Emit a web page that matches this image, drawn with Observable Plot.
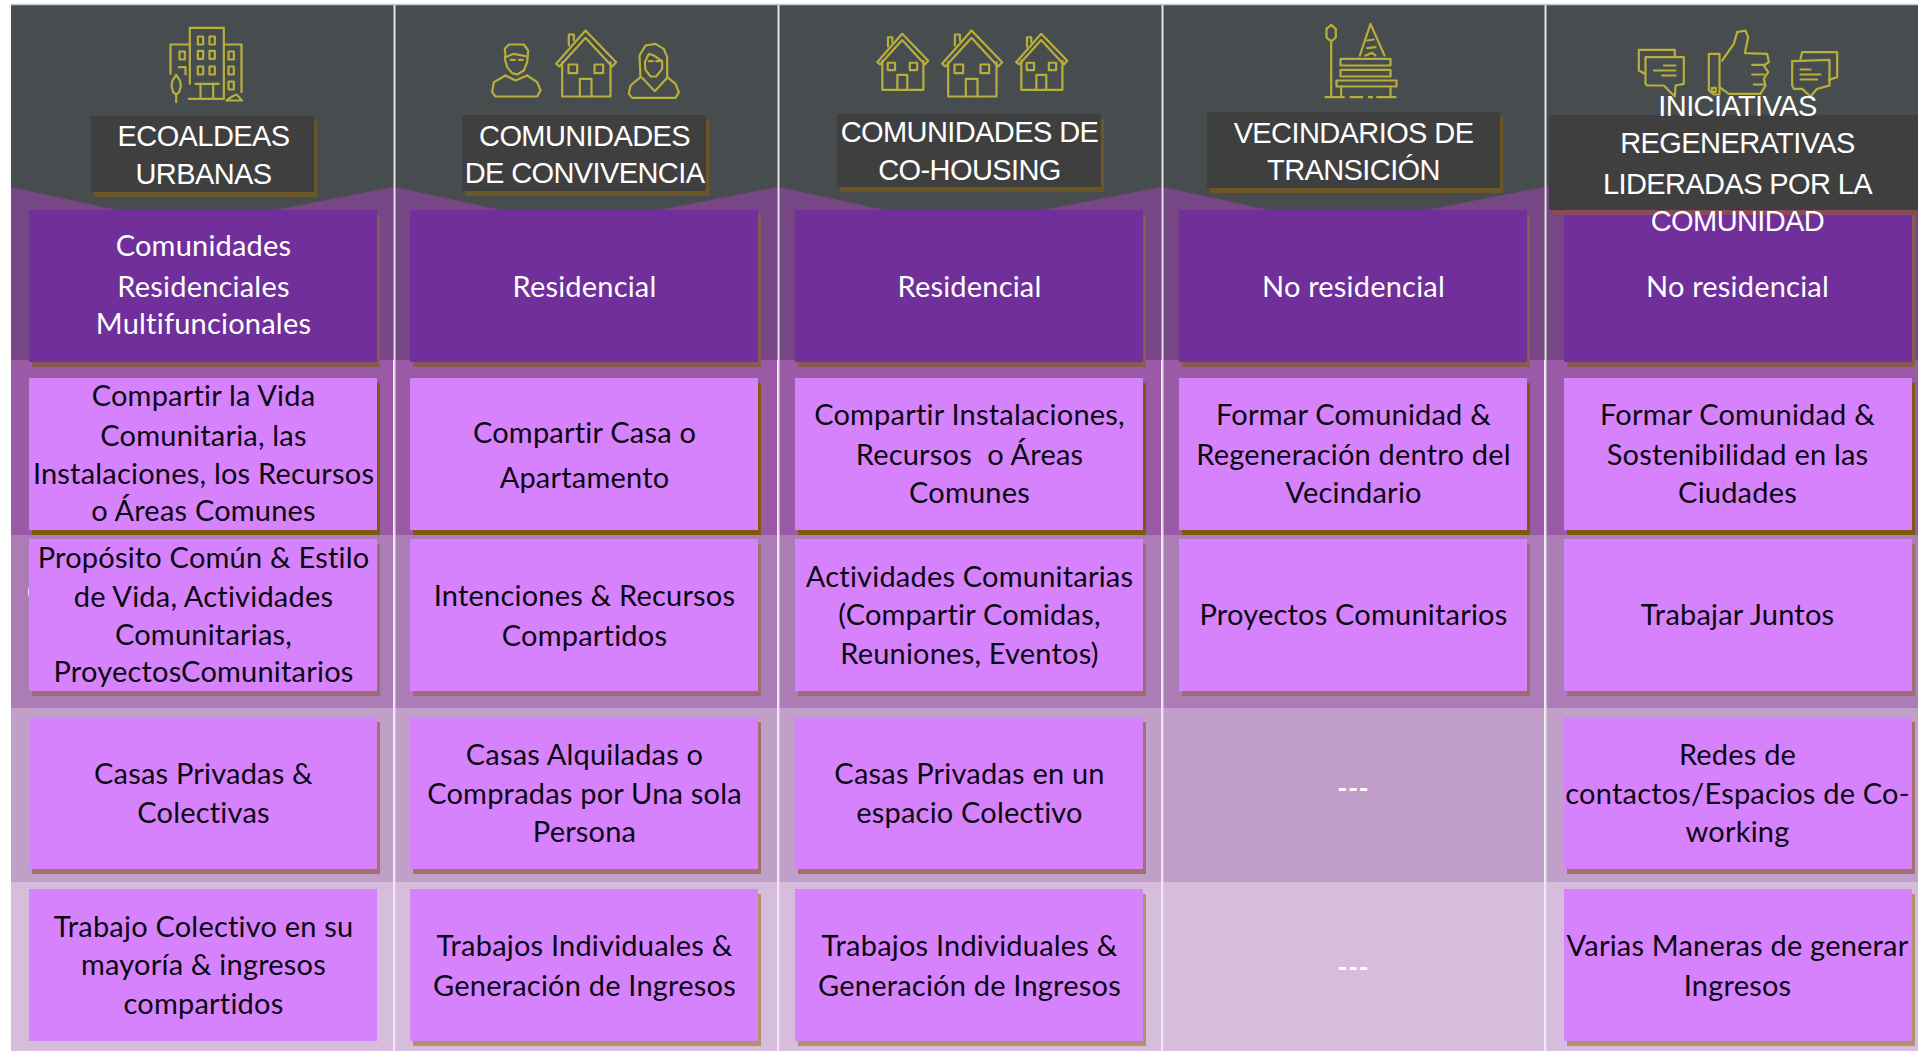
<!DOCTYPE html>
<html lang="es">
<head>
<meta charset="utf-8">
<title>Tipos de comunidades</title>
<script src="https://cdn.jsdelivr.net/npm/d3@7"></script>
<script src="https://cdn.jsdelivr.net/npm/@observablehq/plot@0.6"></script>
<style>
html,body{margin:0;padding:0;background:#fff;overflow:hidden}
svg{display:block}
.hdr text{letter-spacing:-0.6px}
.body text{letter-spacing:0.2px}
.dash text{letter-spacing:1px}
</style>
</head>
<body>
<div id="chart"></div>
<script>
// ---------- content ----------
const categories = ["ECOALDEAS\nURBANAS","COMUNIDADES\nDE CONVIVENCIA","COMUNIDADES DE\nCO-HOUSING","VECINDARIOS DE\nTRANSICIÓN","INICIATIVAS\nREGENERATIVAS\nLIDERADAS POR LA\nCOMUNIDAD"];
const tipo = ["Comunidades\nResidenciales\nMultifuncionales","Residencial","Residencial","No residencial","No residencial"];
const compartir = ["Compartir la Vida\nComunitaria, las\nInstalaciones, los Recursos\no Áreas Comunes","Compartir Casa o\nApartamento","Compartir Instalaciones,\nRecursos  o Áreas\nComunes","Formar Comunidad &\nRegeneración dentro del\nVecindario","Formar Comunidad &\nSostenibilidad en las\nCiudades"];
const proposito = ["Propósito Común & Estilo\nde Vida, Actividades\nComunitarias,\nProyectosComunitarios","Intenciones & Recursos\nCompartidos","Actividades Comunitarias\n(Compartir Comidas,\nReuniones, Eventos)","Proyectos Comunitarios","Trabajar Juntos"];
const vivienda = ["Casas Privadas &\nColectivas","Casas Alquiladas o\nCompradas por Una sola\nPersona","Casas Privadas en un\nespacio Colectivo","---","Redes de\ncontactos/Espacios de Co-\nworking"];
const trabajo = ["Trabajo Colectivo en su\nmayoría & ingresos\ncompartidos","Trabajos Individuales &\nGeneración de Ingresos","Trabajos Individuales &\nGeneración de Ingresos","---","Varias Maneras de generar\nIngresos"];
const rowsText = [tipo, compartir, proposito, vivienda, trabajo];

// ---------- layout (page pixels, used as the domain of identity scales) ----------
const W = 1918, H = 1051;
const colBand = [[11,393],[395,777],[779,1161],[1163,1544],[1546,1918]];
const colBox = [[29,377],[410,758],[795,1143],[1179,1527],[1564,1912]];
const colMid = [203,584,969,1353,1737];
const seps = [394,778,1162,1545];
const rowBox = [[210,362],[378,530],[539,691],[717,869],[889,1041]];
const rowBand = [[360,535],[535,708],[708,882],[882,1051]];
const bandFill = ["#9a5aa6","#ab7cb6","#c0a0c8","#d6bddb"];
const hdrBox = [[91,314,116,192],[462,706,115,191],[837,1101,114,187],[1207,1500,112,188],[1549,1918,115,210]];
const hdrY = [[136,174],[136,173],[132,170],[133,170],[106,143,184,221]];
const shadowBottom = ["#895a52","#7f5a10","#9c6e70","#a5716e","#b0926f"];
const bodyY = [
 [[246,287,324],[287],[287],[287],[287]],
 [[396,436,474,511],[433,478],[415,455,493],[415,455,493],[415,455,493]],
 [[558,597,635,672],[596,636],[577,615,654],[615],[615]],
 [[774,813],[755,794,832],[774,813],[789],[755,794,832]],
 [[927,965,1004],[946,986],[946,986],[968],[946,986]]
];

// ---------- icon outlines ----------
const box = (cx,cy,w,h)=>[[cx-w/2,cy-h/2],[cx+w/2,cy-h/2],[cx+w/2,cy+h/2],[cx-w/2,cy+h/2],[cx-w/2,cy-h/2]];
const houseShape = [
 [[-50,45],[-50,12],[-35,12],[-35,30]],
 [[-88,100],[0,0],[92,95],[80,108],[0,22],[-78,108],[-88,100]],
 [[-70,95],[-70,198],[75,198],[75,95]],
 box(-38,115,26,26), box(40,115,26,26),
 [[-17,198],[-17,145],[18,145],[18,198]]
];
const house = (ax,ay,s)=>houseShape.map(p=>p.map(([x,y])=>[ax+x*s,ay+y*s]));
const iconGroups = [
 {ox:160,oy:20,paths:[
  [[88,190],[88,22],[190,22],[190,235],[85,235]],
  [[88,72],[30,72],[30,160]],[[190,72],[243,72],[243,215]],
  box(120,60,16,24),box(155,60,16,24),box(120,103,16,24),box(155,103,16,24),box(120,150,16,24),box(155,150,16,24),
  box(65,105,16,24),[[55,140],[75,140],[75,162]],box(212,105,16,24),box(212,150,16,24),box(212,195,16,24),
  [[105,190],[175,190]],[[120,190],[120,235]],[[158,190],[158,235]],
  [[47,163],[58,180],[61,195],[56,215],[47,222],[38,215],[33,195],[36,180],[47,163]],[[47,222],[47,245]],
  [[198,240],[215,228],[228,222],[245,240],[198,240]]
 ]},
 {ox:485,oy:20,paths:[
  [[60,105],[58,85],[70,72],[115,72],[128,90],[125,125],[115,150],[95,162],[80,158],[65,140],[58,115],[60,105]],
  [[60,110],[85,100],[125,108]],[[75,118],[88,118]],[[100,118],[112,118]],
  [[60,165],[25,185],[20,215],[30,228],[155,228],[165,210],[155,185],[125,165]],[[60,165],[90,180],[125,165]],
  ...house(300,30,1),
  [[465,170],[462,105],[480,75],[510,70],[535,85],[545,110],[545,170]],
  [[478,125],[490,100],[505,105],[530,122],[530,145],[512,168],[495,168],[480,148],[478,125]],
  [[490,122],[502,122]],[[512,122],[524,122]],
  [[465,170],[435,195],[430,220],[440,232],[570,232],[580,215],[570,190],[545,170]],[[470,172],[508,212],[545,172]]
 ]},
 {ox:870,oy:20,paths:[...house(95,40,.85),...house(303,30,1),...house(512,40,.85)]},
 {ox:1310,oy:15,paths:[
  [[48,40],[62,28],[76,40],[76,65],[66,75],[58,75],[48,65],[48,40]],[[62,75],[62,245]],
  [[45,245],[100,245]],[[120,245],[155,245]],[[175,245],[185,245]],[[200,245],[255,245]],
  [[148,120],[180,25],[222,120]],[[170,75],[190,72]],[[170,98],[195,95]],[[165,120],[185,112],[195,120]],
  box(165,140,150,20),box(165,173,150,20),box(168,204,180,18),[[92,213],[92,240]],[[240,213],[240,240]]
 ]},
 {ox:1625,oy:20,paths:[
  [[58,160],[40,150],[40,88],[148,88],[148,108]],
  [[60,110],[175,110],[175,190],[150,195],[148,228],[115,195],[65,195],[60,190],[60,110]],
  [[115,135],[150,135]],[[85,150],[150,150]],[[110,165],[150,165]],
  [[250,100],[282,100],[282,222],[265,222],[250,210],[250,100]],box(265,208,12,12),
  [[290,120],[325,70],[335,35],[360,30],[368,50],[358,98],[425,100],[430,125],[415,135],[428,155],[415,175],[420,195],[405,220],[310,220],[282,200]],
  [[380,133],[415,133]],[[380,162],[415,162]],[[385,192],[415,192]],
  [[525,115],[530,95],[635,95],[635,170],[610,178]],
  [[500,122],[612,118],[612,195],[575,205],[555,228],[530,205],[505,205],[500,195],[500,122]],
  [[525,147],[555,147]],[[525,162],[585,162]],[[525,177],[575,177]]
 ]}
];
const iconPts = iconGroups.flatMap((g,i)=>g.paths.flatMap((p,j)=>p.map(([x,y])=>({x:g.ox+x/3,y:g.oy+y/3,z:`${i}-${j}`}))));

// ---------- tables for marks ----------
const wedges = colBand.flatMap(([a,b],c)=>[
  {c,x:a,y:187},{c,x:a+106,y:210},{c,x:b-118,y:210},{c,x:b,y:187}]);
const bands = colBand.flatMap(([a,b],c)=>rowBand.map(([t,u],r)=>({x1:a,x2:b,y1:t,y2:u,
  fill: c===3&&r===2 ? "#c19dc9" : bandFill[r]})));
const cells = rowBox.flatMap(([t,u],r)=>colBox.map(([a,b],c)=>({x1:a,x2:b,y1:t,y2:u,r,c})));
const textLines = rowsText.flatMap((row,r)=>row.flatMap((s,c)=>s.split("\n").map((t,k)=>({t,x:colMid[c],y:bodyY[r][c][k],r}))));
const hdrLines = categories.flatMap((s,c)=>s.split("\n").map((t,k)=>({t,x:colMid[c],y:hdrY[c][k]})));
const hdrRects = hdrBox.map(([x1,x2,y1,y2])=>({x1,x2,y1,y2}));
const shadowCells = cells.filter(d=>!(d.c===3&&d.r>=3)&&!(d.c===0&&d.r===4));

const chart = Plot.plot({
  width:W,height:H,margin:0,
  x:{domain:[0,W],range:[0,W],axis:null},
  y:{domain:[0,H],range:[0,H],axis:null},
  color:{type:"identity"},
  style:{background:"#fff"},
  marks:[
    Plot.rect([{x1:11,x2:W,y1:5,y2:360}],{x1:"x1",x2:"x2",y1:"y1",y2:"y2",fill:"#474c4f"}),
    Plot.areaY(wedges,{x:"x",y1:()=>360,y2:"y",z:"c",fill:"#774685"}),
    Plot.rect(bands,{x1:"x1",x2:"x2",y1:"y1",y2:"y2",fill:"fill"}),
    Plot.ruleX(seps,{x:d=>d,y1:5,y2:H,stroke:"#e6e0ea",strokeWidth:2}),
    Plot.ruleY([4],{y:d=>d,x1:11,x2:W,stroke:"#c9ccce",strokeWidth:1.5}),
    Plot.line(iconPts,{x:"x",y:"y",z:"z",stroke:"#b8ae3c",strokeWidth:2.2,curve:"linear"}),
    Plot.text(["C"],{x:35,y:593,text:d=>d,fill:"#f0e8f2",fontSize:26,fontFamily:"Lato"}),
    // header ghost line that falls below its box
    Plot.text(["COMUNIDAD"],{x:1741,y:224,text:d=>d,fill:"#5e3a6e",fontSize:29,fontFamily:"Liberation Sans",className:"hdr"}),
    // body box shadows
    Plot.rect(shadowCells,{x1:d=>d.x1+3,x2:d=>d.x2+3,y1:d=>d.y1+5,y2:d=>d.y2+5,fill:d=>d.r===1?"#7f5a10":shadowBottom[d.r]}),
    Plot.rect(cells,{x1:"x1",x2:"x2",y1:"y1",y2:"y2",
      fill:d=>d.r===0?"#702f9b":(d.c===3&&d.r>=3?"none":"#d782fd")}),
    // header boxes
    Plot.rect(hdrRects,{x1:d=>d.x1+3,x2:d=>Math.min(d.x2+3,W),y1:d=>d.y1+5,y2:d=>d.y2+5,fill:(d,i)=>i===4?"#864c5a":"#6a5626"}),
    Plot.rect(hdrRects,{x1:"x1",x2:"x2",y1:"y1",y2:"y2",fill:"#3f3f3f"}),
    Plot.text(hdrLines,{x:"x",y:"y",text:"t",fill:"#fff",fontSize:29,fontFamily:"Liberation Sans",className:"hdr"}),
    Plot.text(textLines.filter(d=>d.t!=="---"),{x:"x",y:"y",text:"t",fill:d=>d.r===0?"#fff":"#0b0812",
      fontSize:29,fontFamily:"Lato",className:"body"}),
    Plot.text(textLines.filter(d=>d.t==="---"),{x:"x",y:"y",text:"t",fill:"#fff",
      fontSize:26,fontWeight:900,fontFamily:"Lato",className:"dash"})
  ]
});
document.getElementById("chart").append(chart);
</script>
</body>
</html>
